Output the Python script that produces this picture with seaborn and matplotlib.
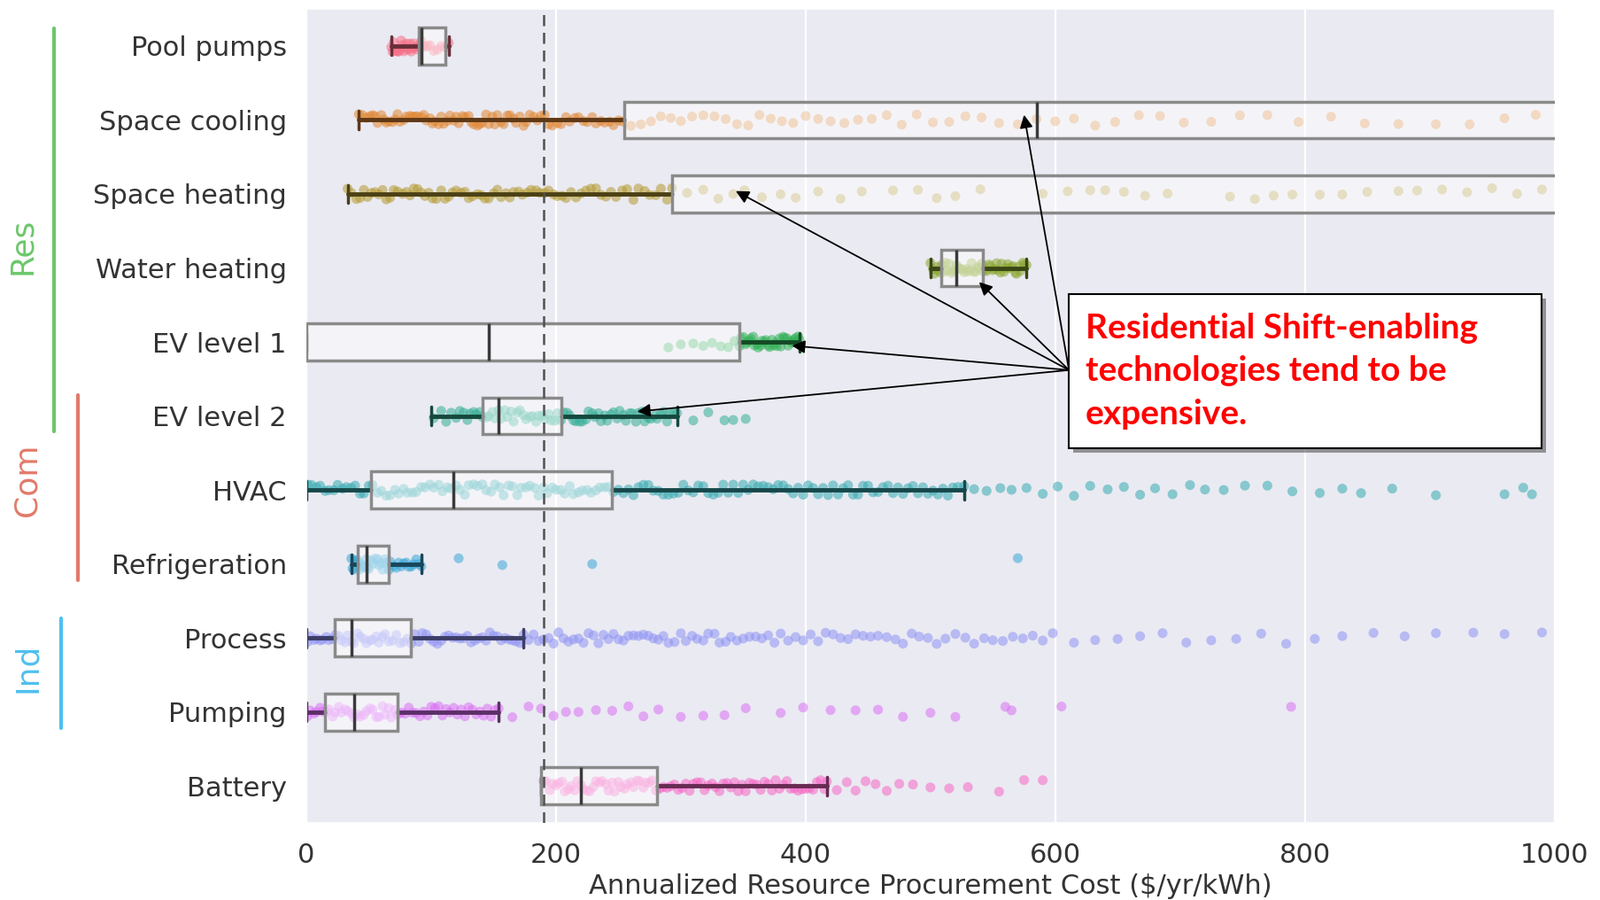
import numpy as np
import pandas as pd
import matplotlib
matplotlib.use('Agg')
import matplotlib.pyplot as plt
from matplotlib.patches import Rectangle
from matplotlib.lines import Line2D
import seaborn as sns

cats = ['Pool pumps', 'Space cooling', 'Space heating', 'Water heating', 'EV level 1',
        'EV level 2', 'HVAC', 'Refrigeration', 'Process', 'Pumping', 'Battery']

# box summary ($/yr/kWh); >1000 means off the right edge
q1 = [90, 255, 293, 509, 0, 141, 52, 41, 23, 15, 188]
med = [92, 585, 1100, 521, 146, 154, 118, 48, 36, 38, 220]
q3 = [111, 1400, 1600, 542, 347, 204, 245, 66, 84, 73, 281]
whislo = [68, 42, 33, 500, 0, 100, 0, 36, 0, 0, 188]
whishi = [114, 2500, 2800, 577, 395, 297, 527, 92, 174, 154, 417]

# individual scenario costs (points)
pool_pumps = [68, 69, 70, 71, 72, 73, 74, 75, 76, 77, 78, 79, 80, 81, 82, 83, 84, 85, 86,
              87, 88, 89, 90, 91, 92, 93, 95, 97, 99, 102, 105, 108, 111, 114]
space_cooling = [42, 45, 48, 51, 53, 55, 57, 60, 62, 64, 66, 69, 71, 73, 75, 78, 80, 83,
                 85, 87, 89, 92, 94, 96, 99, 101, 103, 106, 108, 110, 113, 115, 118, 120,
                 122, 125, 127, 130, 132, 134, 137, 139, 141, 144, 146, 149, 151, 153, 156,
                 158, 161, 163, 166, 168, 171, 174, 176, 179, 182, 185, 188, 191, 194, 197,
                 201, 204, 208, 211, 215, 218, 222, 225, 229, 232, 236, 239, 243, 246, 250,
                 253,
                 260, 268, 276, 284, 292, 300, 309, 318, 327, 336, 345, 354, 363, 372, 381,
                 390, 400, 410, 420, 431, 442, 453, 465, 477, 489, 502, 515, 528, 541, 555,
                 570, 585, 600, 615, 632, 648, 667, 684, 703, 725, 748, 770, 795, 821, 848,
                 875, 905, 932, 960, 985]
space_heating = [33, 36, 40, 43, 46, 49, 52, 55, 58, 61, 64, 67, 70, 73, 77, 80, 83, 86,
                 89, 92, 95, 98, 101, 104, 108, 111, 114, 117, 120, 124, 127, 130, 133, 137,
                 140, 143, 146, 150, 153, 156, 160, 163, 166, 170, 173, 177, 180, 184, 187,
                 191, 194, 198, 201, 205, 208, 212, 216, 220, 224, 228, 232, 236, 240, 244,
                 248, 253, 257, 262, 266, 271, 275, 280, 284, 289, 293,
                 305, 318, 330, 342, 351, 365, 380, 392, 410, 428, 445, 470, 490, 505, 520,
                 540, 590, 610, 628, 640, 655, 672, 690, 740, 760, 775, 790, 812, 830, 850,
                 875, 890, 910, 930, 950, 970, 990]
water_heating = [500, 502, 503, 505, 506, 508, 509, 511, 512, 514, 515, 517, 518, 520, 521,
                 523, 524, 526, 527, 529, 530, 532, 533, 535, 536, 538, 539, 541, 542, 544,
                 545, 547, 548, 550, 551, 553, 554, 556, 557, 559, 560, 562, 563, 565, 566,
                 568, 569, 571, 572, 574, 575, 577]
ev_level_1 = [290, 300, 310, 318, 325, 332, 338, 343, 347, 348, 350, 352, 353, 355, 356,
              358, 359, 361, 362, 364, 365, 367, 368, 370, 371, 373, 374, 376, 377, 379,
              380, 382, 383, 385, 386, 388, 389, 391, 392, 394, 395]
ev_level_2 = [102, 108, 112, 116, 120, 123, 126, 129, 131, 134, 136, 139, 141, 144, 146,
              149, 151, 154, 156, 159, 161, 164, 166, 169, 171, 174, 176, 179, 181, 184,
              186, 189, 191, 194, 196, 199, 201, 204, 206, 209, 211, 214, 216, 219, 221,
              224, 226, 229, 231, 234, 236, 239, 241, 244, 246, 249, 251, 254, 256, 259,
              261, 264, 266, 269, 271, 274, 276, 279, 281, 284, 286, 289, 291, 294, 297,
              310, 322, 335, 342, 352]
hvac = [1, 4, 8, 11, 15, 18, 22, 25, 29, 32, 36, 39, 43, 46, 50, 53, 57, 60, 64, 67, 71,
        74, 78, 81, 85, 88, 92, 95, 99, 102, 106, 109, 113, 116, 120, 123, 127, 130, 134,
        137, 141, 144, 148, 151, 155, 158, 162, 165, 169, 172, 176, 179, 183, 186, 190, 193,
        197, 200, 204, 207, 211, 214, 218, 221, 225, 228, 232, 235, 239, 242, 246, 250, 254,
        258, 262, 266, 270, 274, 278, 282, 286, 290, 294, 298, 302, 306, 310, 314, 318, 322,
        326, 330, 334, 338, 342, 346, 350, 354, 358, 362, 366, 370, 374, 378, 382, 386, 390,
        394, 398, 402, 406, 410, 414, 418, 422, 426, 430, 434, 438, 442, 446, 450, 454, 458,
        462, 466, 470, 474, 478, 482, 486, 490, 494, 498, 502, 506, 510, 514, 518, 522, 527,
        535, 545, 556, 565, 577, 590, 602, 615, 628, 642, 655, 668, 680, 694, 708, 720, 735,
        752, 770, 790, 812, 830, 845, 870, 905, 960, 975, 982]
refrigeration = [36, 37, 38, 39, 40, 41, 42, 43, 44, 45, 46, 47, 48, 49, 50, 52, 54, 55,
                 57, 58, 60, 61, 63, 64, 66, 67, 70, 72, 74, 76, 78, 80, 82, 84, 86, 88, 90,
                 92, 122, 157, 229, 570]
process = [1, 3, 6, 8, 11, 13, 16, 18, 21, 23, 26, 28, 31, 33, 36, 38, 41, 43, 46, 48, 51,
           53, 56, 58, 61, 63, 66, 69, 72, 75, 78, 81, 84, 87, 90, 93, 96, 99, 102, 105, 108,
           111, 114, 117, 120, 123, 126, 129, 132, 135, 138, 141, 144, 147, 150, 153, 156,
           159, 162, 165, 168, 171, 174,
           178, 182, 186, 190, 194, 198, 202, 206, 210, 214, 218, 222, 226, 230, 234, 238,
           242, 246, 250, 254, 258, 262, 266, 270, 274, 278, 282, 286, 290, 295, 300, 304,
           309, 313, 318, 322, 327, 331, 336, 340, 345, 350, 355, 360, 365, 370, 375, 380,
           386, 392, 398, 404, 410, 416, 422, 428, 434, 440, 446, 452, 458, 465, 472, 478,
           485, 491, 498, 505, 512, 520, 528, 535, 543, 550, 558, 566, 574, 582, 590, 598,
           615, 632, 650, 668, 686, 705, 725, 745, 765, 785, 808, 830, 855, 880, 905, 935,
           960, 990]
pumping = [1, 3, 6, 8, 11, 13, 16, 18, 21, 23, 26, 28, 31, 33, 36, 38, 41, 43, 46, 48, 51,
           53, 56, 58, 61, 63, 66, 68, 71, 73, 76, 79, 82, 85, 88, 91, 94, 97, 100, 103, 106,
           109, 112, 115, 118, 121, 124, 127, 130, 133, 136, 139, 142, 145, 148, 151, 154,
           165, 178, 188, 198, 208, 218, 232, 245, 258, 270, 282, 300, 318, 335, 352, 380,
           398, 420, 440, 458, 478, 500, 520, 560, 565, 605, 789]
battery = [190, 192, 195, 197, 200, 202, 205, 207, 210, 212, 215, 217, 220, 222, 225, 227,
           230, 232, 235, 237, 240, 242, 245, 247, 250, 252, 255, 257, 260, 262, 265, 267,
           270, 272, 275, 277, 280, 283, 286, 289, 292, 295, 298, 301, 304, 307, 310, 313,
           316, 319, 322, 325, 328, 331, 334, 337, 340, 343, 346, 349, 352, 355, 358, 361,
           364, 367, 370, 373, 376, 379, 382, 385, 388, 391, 394, 397, 400, 403, 406, 409,
           412, 415, 417,
           425, 433, 440, 448, 456, 465, 475, 486, 500, 515, 530, 555, 575, 590]

point_lists = [pool_pumps, space_cooling, space_heating, water_heating, ev_level_1,
               ev_level_2, hvac, refrigeration, process, pumping, battery]
df = pd.DataFrame({'tech': [c for c, v in zip(cats, point_lists) for _ in v],
                   'cost': [x for v in point_lists for x in v]})

threshold = 190

sns.set_theme(style='darkgrid')
pal = sns.husl_palette(len(cats))

fig = plt.figure(figsize=(18.08, 10.16), dpi=100)
ax = fig.add_axes([0.1914, 0.0856, 0.7796, 0.9044])

sns.stripplot(data=df, x='cost', y='tech', order=cats, hue='tech', hue_order=cats,
              palette=pal, legend=False, size=8, alpha=0.55, jitter=0.08,
              linewidth=0, ax=ax, zorder=2)

stats = [dict(q1=a, med=m, q3=b, whislo=lo, whishi=hi, fliers=[])
         for a, m, b, lo, hi in zip(q1, med, q3, whislo, whishi)]
bp = ax.bxp(stats, positions=range(len(cats)), widths=0.5, orientation='horizontal',
            patch_artist=True, manage_ticks=False, showfliers=False,
            boxprops=dict(facecolor=(1, 1, 1, 0.5), edgecolor='#8a8a8a', linewidth=2.5),
            medianprops=dict(color='#3a3a3a', linewidth=2.5),
            whiskerprops=dict(linewidth=3.5), capprops=dict(linewidth=2.5))
for b in bp['boxes']:
    b.set_zorder(3)
for m in bp['medians']:
    m.set_zorder(4)
for i, c in enumerate(pal):
    dark = tuple(np.array(c) * 0.42)
    for ln in bp['whiskers'][2 * i:2 * i + 2] + bp['caps'][2 * i:2 * i + 2]:
        ln.set_color(dark)
        ln.set_zorder(2.5)

ax.axvline(threshold, color='#505050', ls=(0, (5, 3)), lw=1.8, zorder=5)

ax.set_xlim(0, 1000)
ax.set_ylim(len(cats) - 0.5, -0.5)
ax.set_xticks([0, 200, 400, 600, 800, 1000])
ax.grid(axis='x', color='white', lw=1.6)
ax.grid(axis='y', visible=False)
ax.tick_params(axis='both', labelsize=22, colors='#333333', pad=10)
ax.set_ylabel('')
ax.set_xlabel('Annualized Resource Procurement Cost ($/yr/kWh)', fontsize=22,
              color='#333333', labelpad=4)

# callout box
ax.add_patch(Rectangle((614.5, 3.41), 379, 2.08, facecolor='#555555', edgecolor='none',
                       alpha=0.6, zorder=6, clip_on=False))
ax.add_patch(Rectangle((611, 3.35), 379, 2.08, facecolor='white', edgecolor='black',
                       lw=1.5, zorder=7, clip_on=False))
for yy, line in zip([3.81, 4.39, 4.98],
                    ['Residential Shift-enabling', 'technologies tend to be', 'expensive.']):
    ax.text(624, yy, line, color='#ff0000', fontsize=28, fontweight='bold',
            family='Lato', va='center', ha='left', zorder=8)

start = (611, 4.38)
targets = [(575, 0.93), (344, 1.96), (539, 3.19), (389, 4.05), (265, 4.94)]
for t in targets:
    ax.annotate('', xy=t, xytext=start,
                arrowprops=dict(arrowstyle='-|>', color='black', lw=1.3,
                                mutation_scale=22, shrinkA=0, shrinkB=0),
                zorder=6)

# sector brackets on the left
W, H = 1808, 1016
groups = [('Res', '#6cc76c', 25, 278, 61, 32, 487),
          ('Com', '#e27a6a', 31, 542, 88, 446, 655),
          ('Ind', '#4fc0ef', 31, 754, 69, 698, 822)]
for name, col, tx, ty, lx, ly0, ly1 in groups:
    fig.text(tx / W, 1 - ty / H, name, rotation=90, color=col, fontsize=26,
             ha='center', va='center')
    fig.add_artist(Line2D([lx / W, lx / W], [1 - ly0 / H, 1 - ly1 / H],
                          color=col, lw=3, transform=fig.transFigure))

fig.savefig('out.png', dpi=100)
